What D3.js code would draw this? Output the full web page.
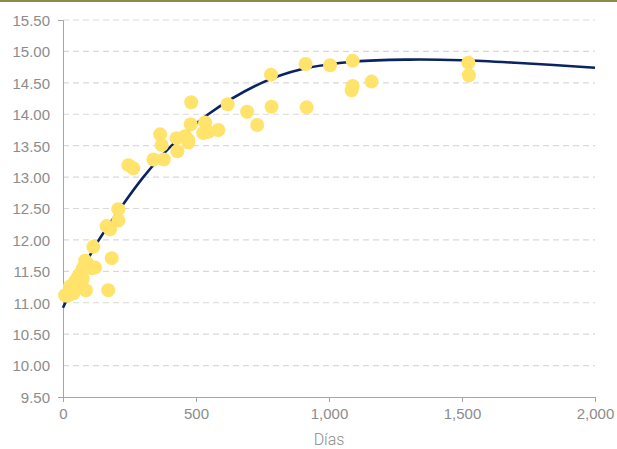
<!DOCTYPE html>
<html>
<head>
<meta charset="utf-8">
<script src="https://cdn.jsdelivr.net/npm/d3@7"></script>
<style>
  body { margin: 0; background: #fff; }
  svg { display: block; font-family: 'Roboto', sans-serif; }
  .axis text { fill: #8c8c8c; font-size: 15px; font-weight: 300; }
  .axis path, .axis line { stroke: #a6a6a6; }
</style>
</head>
<body>
<svg width="617" height="449"></svg>
<script>
// scatter: days vs value
const days = [8, 15, 20, 26, 28, 34, 39, 45, 45, 50, 55, 58, 64, 68, 70, 75, 75, 83, 86, 90, 92, 108, 114, 120,
  164, 170, 177, 183, 208, 208, 246, 264, 340, 379, 365, 371, 430, 427, 459, 471, 471, 482, 480,
  527, 534, 546, 584, 619, 692, 730, 782, 784, 912, 916, 1004, 1089, 1089, 1085, 1160, 1524, 1526]
const values = [11.12, 11.11, 11.12, 11.26, 11.20, 11.17, 11.15, 11.34, 11.28, 11.25, 11.40, 11.42, 11.45, 11.45, 11.50, 11.38, 11.55, 11.67, 11.20, 11.60, 11.62, 11.55, 11.89, 11.56,
  12.22, 11.20, 12.17, 11.71, 12.31, 12.49, 13.19, 13.14, 13.28, 13.28, 13.68, 13.51, 13.41, 13.62, 13.65, 13.55, 13.59, 14.19, 13.84,
  13.70, 13.87, 13.72, 13.75, 14.16, 14.04, 13.83, 14.63, 14.12, 14.80, 14.11, 14.78, 14.85, 14.45, 14.38, 14.52, 14.82, 14.62]

// trend line
const trendDays = [0, 50, 135, 215, 302, 408, 546, 747, 900, 1100, 1300, 1500, 1700, 2000]
const trendValues = [10.92, 11.35, 12.0, 12.5, 13.0, 13.5, 14.0, 14.5, 14.72, 14.84, 14.87, 14.86, 14.82, 14.74]

const yTicks = [9.5, 10, 10.5, 11, 11.5, 12, 12.5, 13, 13.5, 14, 14.5, 15, 15.5]
const xTicks = [0, 500, 1000, 1500, 2000]

const margin = { top: 20, left: 63, right: 22, bottom: 52 }
const width = 617
const height = 449

const svg = d3.select('svg')

// olive rule across the top
svg.append('rect')
  .attr('x', 0).attr('y', 0)
  .attr('width', width).attr('height', 2)
  .attr('fill', '#8c8c45')

const x = d3.scaleLinear().domain([0, 2000]).range([margin.left, width - margin.right])
const y = d3.scaleLinear().domain([9.5, 15.5]).range([height - margin.bottom, margin.top])

// gridlines
svg.append('g')
  .selectAll('line')
  .data(yTicks.slice(1))
  .join('line')
  .attr('x1', x(0)).attr('x2', x(2000))
  .attr('y1', d => y(d)).attr('y2', d => y(d))
  .attr('stroke', '#d9d9d9')
  .attr('stroke-width', 1.2)
  .attr('stroke-dasharray', '6,4')

const yAxis = svg.append('g')
  .attr('class', 'axis')
  .attr('transform', `translate(${margin.left},0)`)
  .call(d3.axisLeft(y).tickValues(yTicks).tickFormat(d3.format('.2f')).tickSizeInner(0).tickSizeOuter(5).tickPadding(13))
yAxis.selectAll('text').attr('dy', '0.36em')

const xAxis = svg.append('g')
  .attr('class', 'axis')
  .attr('transform', `translate(0,${height - margin.bottom})`)
  .call(d3.axisBottom(x).tickValues(xTicks).tickFormat(d3.format(',')).tickSize(5).tickSizeOuter(0).tickPadding(6))

svg.append('text')
  .attr('x', x(1000))
  .attr('y', 445)
  .attr('text-anchor', 'middle')
  .attr('fill', '#8c8c8c')
  .attr('font-size', 16)
  .attr('font-weight', 300)
  .text('Días')

// trend
const line = d3.line()
  .x(d => x(d[0]))
  .y(d => y(d[1]))
  .curve(d3.curveCatmullRom)

svg.append('path')
  .datum(d3.zip(trendDays, trendValues))
  .attr('d', line)
  .attr('fill', 'none')
  .attr('stroke', '#0a2463')
  .attr('stroke-width', 2.6)

svg.append('g')
  .selectAll('circle')
  .data(d3.zip(days, values))
  .join('circle')
  .attr('cx', d => x(d[0]))
  .attr('cy', d => y(d[1]))
  .attr('r', 7)
  .attr('fill', '#ffe36b')
</script>
</body>
</html>
